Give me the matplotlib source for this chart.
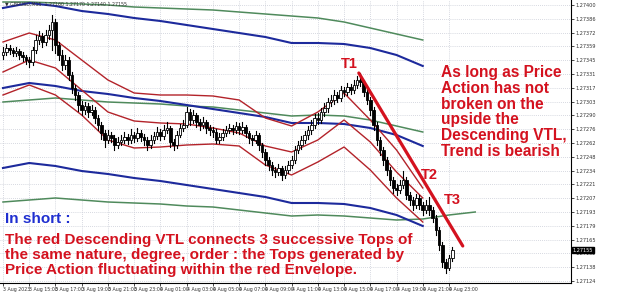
import matplotlib
matplotlib.use("Agg")
import matplotlib.pyplot as plt
from matplotlib.patches import Rectangle

# price bars (M15), prices 1.27xxx
close = [1.27353, 1.27357, 1.27355, 1.27352, 1.27354, 1.27350, 1.27348, 1.27345, 1.27343, 1.27355,
         1.27365, 1.27369, 1.27363, 1.27370, 1.27375, 1.27383, 1.27360, 1.27350, 1.27340, 1.27345,
         1.27330, 1.27317, 1.27310, 1.27300, 1.27295, 1.27299, 1.27293, 1.27295, 1.27287, 1.27280,
         1.27272, 1.27265, 1.27270, 1.27267, 1.27260, 1.27263, 1.27265, 1.27268, 1.27265, 1.27270,
         1.27267, 1.27272, 1.27268, 1.27265, 1.27260, 1.27265, 1.27269, 1.27273, 1.27269, 1.27275,
         1.27277, 1.27263, 1.27260, 1.27270, 1.27277, 1.27280, 1.27293, 1.27285, 1.27290, 1.27283,
         1.27280, 1.27283, 1.27277, 1.27275, 1.27273, 1.27265, 1.27268, 1.27272, 1.27275, 1.27277,
         1.27275, 1.27279, 1.27275, 1.27278, 1.27272, 1.27267, 1.27265, 1.27270, 1.27260, 1.27253,
         1.27245, 1.27240, 1.27235, 1.27233, 1.27237, 1.27230, 1.27235, 1.27240, 1.27245, 1.27255,
         1.27260, 1.27265, 1.27270, 1.27275, 1.27280, 1.27287, 1.27285, 1.27293, 1.27297, 1.27303,
         1.27305, 1.27310, 1.27307, 1.27315, 1.27313, 1.27318, 1.27315, 1.27320, 1.27325, 1.27323,
         1.27313, 1.27305, 1.27295, 1.27280, 1.27265, 1.27255, 1.27245, 1.27235, 1.27225, 1.27217,
         1.27215, 1.27220, 1.27225, 1.27210, 1.27205, 1.27200, 1.27207, 1.27200, 1.27195, 1.27200,
         1.27195, 1.27187, 1.27175, 1.27160, 1.27143, 1.27137, 1.27147, 1.27155]
high = [1.27358, 1.27361, 1.27360, 1.27357, 1.27358, 1.27356, 1.27353, 1.27350, 1.27348, 1.27358,
        1.27370, 1.27374, 1.27372, 1.27375, 1.27380, 1.27390, 1.27386, 1.27363, 1.27355, 1.27350,
        1.27348, 1.27333, 1.27320, 1.27313, 1.27304, 1.27303, 1.27302, 1.27300, 1.27298, 1.27290,
        1.27283, 1.27275, 1.27275, 1.27273, 1.27270, 1.27268, 1.27270, 1.27273, 1.27271, 1.27276,
        1.27273, 1.27277, 1.27275, 1.27271, 1.27268, 1.27270, 1.27273, 1.27278, 1.27276, 1.27280,
        1.27283, 1.27279, 1.27266, 1.27274, 1.27281, 1.27285, 1.27298, 1.27296, 1.27295, 1.27292,
        1.27286, 1.27288, 1.27285, 1.27280, 1.27278, 1.27276, 1.27272, 1.27276, 1.27279, 1.27281,
        1.27280, 1.27283, 1.27282, 1.27283, 1.27280, 1.27274, 1.27270, 1.27274, 1.27272, 1.27262,
        1.27256, 1.27248, 1.27243, 1.27238, 1.27241, 1.27239, 1.27239, 1.27244, 1.27249, 1.27259,
        1.27264, 1.27269, 1.27274, 1.27279, 1.27285, 1.27291, 1.27292, 1.27297, 1.27302, 1.27307,
        1.27310, 1.27315, 1.27313, 1.27319, 1.27318, 1.27322, 1.27321, 1.27325, 1.27329, 1.27332,
        1.27325, 1.27316, 1.27308, 1.27298, 1.27283, 1.27268, 1.27258, 1.27248, 1.27238, 1.27228,
        1.27221, 1.27225, 1.27234, 1.27228, 1.27213, 1.27208, 1.27211, 1.27210, 1.27203, 1.27205,
        1.27208, 1.27198, 1.27190, 1.27178, 1.27163, 1.27146, 1.27150, 1.27158]
low = [1.27346, 1.27350, 1.27351, 1.27349, 1.27349, 1.27346, 1.27344, 1.27341, 1.27338, 1.27340,
       1.27352, 1.27361, 1.27358, 1.27360, 1.27366, 1.27355, 1.27352, 1.27345, 1.27335, 1.27336,
       1.27325, 1.27312, 1.27305, 1.27294, 1.27290, 1.27291, 1.27288, 1.27290, 1.27282, 1.27275,
       1.27266, 1.27258, 1.27262, 1.27263, 1.27255, 1.27257, 1.27260, 1.27262, 1.27261, 1.27262,
       1.27263, 1.27264, 1.27264, 1.27260, 1.27255, 1.27257, 1.27262, 1.27266, 1.27265, 1.27266,
       1.27272, 1.27258, 1.27255, 1.27257, 1.27268, 1.27274, 1.27278, 1.27280, 1.27282, 1.27278,
       1.27275, 1.27277, 1.27272, 1.27270, 1.27268, 1.27262, 1.27262, 1.27265, 1.27269, 1.27272,
       1.27271, 1.27272, 1.27271, 1.27272, 1.27268, 1.27262, 1.27260, 1.27262, 1.27255, 1.27248,
       1.27240, 1.27235, 1.27230, 1.27228, 1.27230, 1.27225, 1.27227, 1.27232, 1.27237, 1.27242,
       1.27252, 1.27256, 1.27262, 1.27266, 1.27271, 1.27277, 1.27281, 1.27282, 1.27289, 1.27293,
       1.27299, 1.27301, 1.27303, 1.27304, 1.27309, 1.27310, 1.27311, 1.27312, 1.27317, 1.27319,
       1.27309, 1.27301, 1.27290, 1.27275, 1.27260, 1.27250, 1.27240, 1.27230, 1.27220, 1.27212,
       1.27210, 1.27212, 1.27217, 1.27206, 1.27200, 1.27195, 1.27197, 1.27196, 1.27190, 1.27192,
       1.27190, 1.27183, 1.27170, 1.27155, 1.27138, 1.27132, 1.27135, 1.27144]
first_open = 1.27350

# red, blue and green envelopes (sampled every 8 bars, end 8 bars before the last bar)
env_idx = [0, 8, 16, 24, 32, 40, 48, 56, 64, 72, 80, 88, 96, 104, 112, 120, 128]
red_upper = [1.27363, 1.27372, 1.27365, 1.27345, 1.27325, 1.27312, 1.27310, 1.27310, 1.27309,
             1.27305, 1.27287, 1.27279, 1.27293, 1.27312, 1.27285, 1.27255, 1.27217]
red_mid = [1.27333, 1.27345, 1.27337, 1.27315, 1.27293, 1.27284, 1.27282, 1.27281, 1.27277,
           1.27272, 1.27259, 1.27253, 1.27265, 1.27285, 1.27263, 1.27233, 1.27207]
red_lower = [1.27310, 1.27320, 1.27310, 1.27290, 1.27265, 1.27257, 1.27258, 1.27260, 1.27261,
             1.27259, 1.27240, 1.27230, 1.27243, 1.27258, 1.27235, 1.27207, 1.27183]
blue_upper = [1.27397, 1.27402, 1.27399, 1.27394, 1.27391, 1.27387, 1.27384, 1.27380, 1.27376,
              1.27372, 1.27368, 1.27362, 1.27362, 1.27361, 1.27357, 1.27350, 1.27339]
blue_mid = [1.27317, 1.27322, 1.27319, 1.27314, 1.27311, 1.27307, 1.27304, 1.27300, 1.27296,
            1.27292, 1.27288, 1.27282, 1.27282, 1.27281, 1.27277, 1.27270, 1.27259]
blue_lower = [1.27237, 1.27242, 1.27239, 1.27234, 1.27231, 1.27227, 1.27224, 1.27220, 1.27216,
              1.27212, 1.27208, 1.27202, 1.27202, 1.27201, 1.27197, 1.27190, 1.27179]
green_upper = [1.27403, 1.27403, 1.27402, 1.27401, 1.27400, 1.27398, 1.27397, 1.27396, 1.27395,
               1.27393, 1.27391, 1.27389, 1.27387, 1.27383, 1.27377, 1.27371, 1.27365]
green_mid = [1.27303, 1.27305, 1.27307, 1.27305, 1.27303, 1.27302, 1.27301, 1.27299, 1.27298,
             1.27295, 1.27292, 1.27289, 1.27290, 1.27289, 1.27285, 1.27279, 1.27273]

# lower green line runs 8 bars past the last bar
green_low_idx = [0, 8, 16, 24, 32, 40, 48, 56, 64, 72, 80, 88, 96, 104, 112, 120, 128, 136, 144]
green_lower = [1.27203, 1.27205, 1.27207, 1.27205, 1.27203, 1.27202, 1.27201, 1.27199, 1.27198, 1.27195,
               1.27192, 1.27189, 1.27190, 1.27189, 1.27187, 1.27185, 1.27186, 1.27190, 1.27193]

# trendline through the tops (bar index, price)
vtl_x = [108.5, 140.2]
vtl_y = [1.27332, 1.27159]

price_ticks = [1.27400 - 0.000138 * k for k in range(21)]
time_labels = ["3 Aug 2023", "3 Aug 15:00", "3 Aug 17:00", "3 Aug 19:00", "3 Aug 21:00", "3 Aug 23:00",
               "4 Aug 01:00", "4 Aug 03:00", "4 Aug 05:00", "4 Aug 07:00", "4 Aug 09:00", "4 Aug 11:00",
               "4 Aug 13:00", "4 Aug 15:00", "4 Aug 17:00", "4 Aug 19:00", "4 Aug 21:00", "4 Aug 23:00"]

RED = "#d4121f"
ENV_RED = "#b3232a"
BLUE = "#1d2a9c"
GREEN = "#4f8a5c"

fig = plt.figure(figsize=(6.25, 3.02), dpi=100)
ax = fig.add_axes([0, 19 / 302, 571 / 625, 283 / 302])
ax.set_xlim(-0.91, 173.2)
ax.set_ylim(1.27122, 1.27405)

# grid
for k in range(len(time_labels)):
    ax.axvline(8 * k, color="#c9ccd6", lw=0.6, ls=(0, (1, 1.5)), zorder=0)
for p in price_ticks:
    ax.axhline(p, color="#c9ccd6", lw=0.6, ls=(0, (1, 1.5)), zorder=0)

# envelopes
for band in (green_upper, green_mid):
    ax.plot(env_idx, band, color=GREEN, lw=1.1, zorder=1)
ax.plot(green_low_idx, green_lower, color=GREEN, lw=1.1, zorder=1)
for band in (blue_upper, blue_mid, blue_lower):
    ax.plot(env_idx, band, color=BLUE, lw=1.5, zorder=1)
for band in (red_upper, red_mid, red_lower):
    ax.plot(env_idx, band, color=ENV_RED, lw=1.0, zorder=1)

# candles
opens = [first_open] + close[:-1]
for i, (o, h, l, c) in enumerate(zip(opens, high, low, close)):
    ax.plot([i, i], [l, h], color="black", lw=0.8, zorder=2)
    face = "white" if c >= o else "black"
    ax.add_patch(Rectangle((i - 0.4, min(o, c)), 0.8, max(abs(c - o), 0.000008),
                           facecolor=face, edgecolor="black", lw=0.6, zorder=3))

# descending VTL
ax.plot(vtl_x, vtl_y, color=RED, lw=2.3, solid_capstyle="round", zorder=4)

# axes look
for s in ("left", "top"):
    ax.spines[s].set_visible(False)
ax.spines["right"].set_linewidth(0.8)
ax.spines["bottom"].set_linewidth(0.8)
ax.yaxis.tick_right()
ax.set_yticks(price_ticks)
ax.set_yticklabels([f"{p:.5f}" for p in price_ticks], fontsize=3.6, color="#333333")
ax.set_xticks([8 * k for k in range(len(time_labels))])
ax.set_xticklabels(time_labels, fontsize=3.4, color="#333333", ha="left")
ax.tick_params(axis="both", length=2, width=0.5, pad=1)

# last price tag
ax.text(1.003, (close[-1] - 1.27122) / (1.27405 - 1.27122), f"{close[-1]:.5f}",
        transform=ax.transAxes, fontsize=3.6, color="white", va="center", ha="left",
        bbox=dict(boxstyle="square,pad=0.15", fc="black", ec="black"))
fig.text(0.008, 0.995, "\u25bc GBPUSD,M15  1.27160 1.27170 1.27140 1.27155", fontsize=3.4,
         color="#333333", va="top")

# annotations
bold = dict(fontweight="bold", fontfamily="Liberation Sans")
ax.text(105.5, 1.27341, "T1", color=RED, fontsize=10.5, ha="center", va="center", **bold)
ax.text(130.0, 1.27230, "T2", color=RED, fontsize=10.5, ha="center", va="center", **bold)
ax.text(137.0, 1.27205, "T3", color=RED, fontsize=10.5, ha="center", va="center", **bold)
ax.text(133.6, 1.27293,
        "As long as Price\nAction has not\nbroken on the\nupside the\nDescending VTL,\nTrend is bearish",
        color=RED, fontsize=11.2, ha="left", va="center", linespacing=1.05, **bold)
ax.text(0.7, 1.27186, "In short :", color="#1f2fd0", fontsize=11, ha="left", va="center", **bold)
ax.text(0.7, 1.27150,
        "The red Descending VTL connects 3 successive Tops of\n"
        "the same nature, degree, order : the Tops generated by\n"
        "Price Action fluctuating within the red Envelope.",
        color=RED, fontsize=11, ha="left", va="center", linespacing=1.05, **bold)

fig.savefig("out.png", dpi=100)
